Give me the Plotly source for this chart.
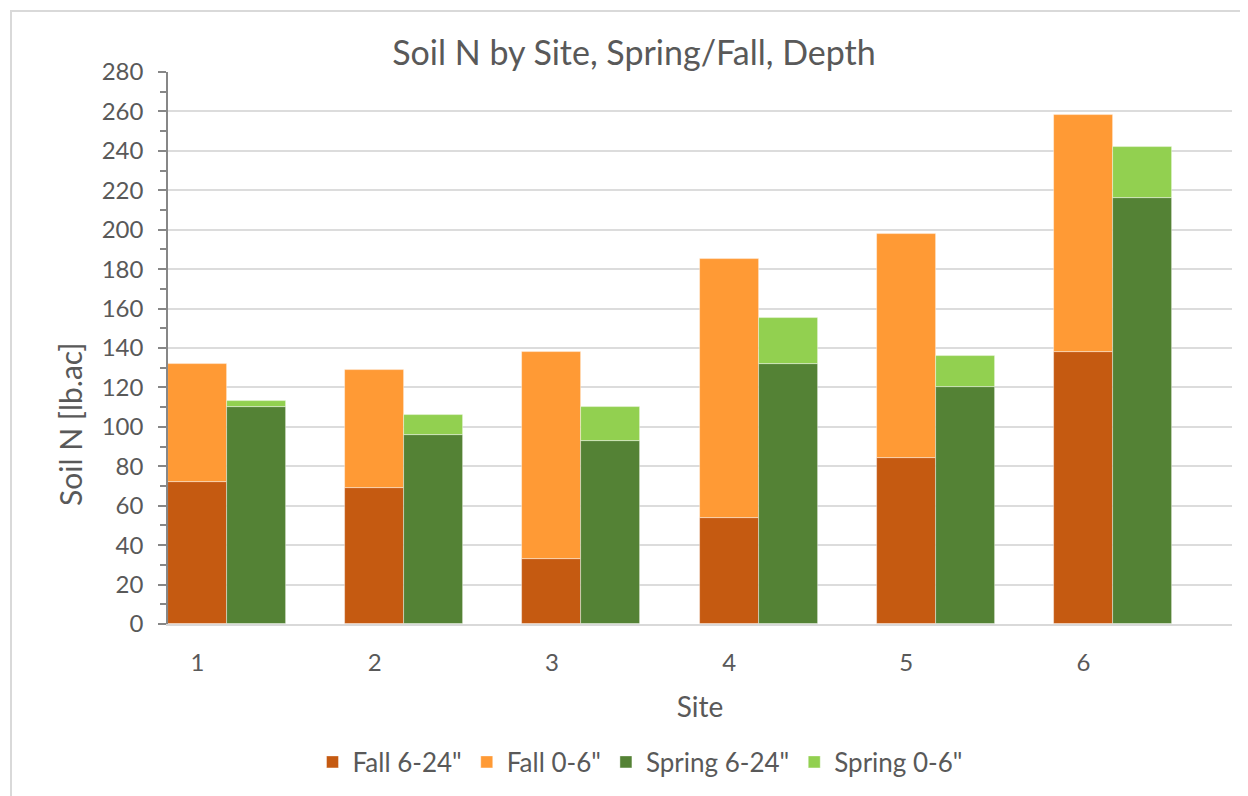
import plotly.graph_objects as go

sites = [1, 2, 3, 4, 5, 6]
fall_deep = [72, 69, 33, 54, 84, 138]      # Fall 6-24"
fall_top = [60, 60, 105, 131, 114, 120]    # Fall 0-6"
spring_deep = [110, 96, 93, 132, 120, 216] # Spring 6-24"
spring_top = [3, 10, 17, 23, 16, 26]       # Spring 0-6"
tick_labels = ["1", "2", "3", "4", "5", "6"]

# page body has an 8px margin; compensate
OFF = 8
W, H = 1248 - OFF, 796 - OFF
L, R, T, B = 168 - OFF, 16, 72 - OFF, 172
pw, ph = W - L - R, H - T - B

bw = 0.333
fall_x = [s for s in sites]
spring_x = [s + bw for s in sites]

FONT = "Lato, 'Open Sans', sans-serif"
GREY = "#595959"

fig = go.Figure()
specs = [
    ("Fall 6-24\"", fall_x, fall_deep, "#C55A11"),
    ("Fall 0-6\"", fall_x, fall_top, "#FF9A35"),
    ("Spring 6-24\"", spring_x, spring_deep, "#548235"),
    ("Spring 0-6\"", spring_x, spring_top, "#92D050"),
]
for name, xs, ys, col in specs:
    fig.add_trace(go.Bar(name=name, x=xs, y=ys, width=bw,
                         marker=dict(color=col, line=dict(color="rgba(255,255,255,0.5)", width=0.8))))

# convert target-screen pixels to paper coordinates
def px_x(p):
    return (p - OFF - L) / pw

def px_y(p):
    return (H - B - (p - OFF)) / ph

fig.update_layout(
    width=W, height=H,
    barmode="relative",
    bargap=0,
    plot_bgcolor="white",
    paper_bgcolor="white",
    margin=dict(l=L, r=R, t=T, b=B, autoexpand=False),
    font=dict(family=FONT, color=GREY, size=24),
    title=dict(text="Soil N by Site, Spring/Fall, Depth", xref="paper", x=px_x(634), xanchor="center",
               yref="container", y=1 - (53 - OFF) / H, yanchor="middle",
               font=dict(size=34, color=GREY, family=FONT)),
    xaxis=dict(range=[1 - bw / 2, 6.838], tickvals=sites, ticktext=tick_labels,
               showgrid=False, zeroline=False, showline=True, linecolor="#d9d9d9", linewidth=2,
               ticks="", ticklabelstandoff=16, tickfont=dict(size=24, color=GREY),
               title=dict(text="Site", font=dict(size=28, color=GREY), standoff=23)),
    yaxis=dict(range=[0, 280], tickvals=list(range(0, 281, 20)),
               showgrid=True, gridcolor="#dcdcdc", gridwidth=1.5, zeroline=False,
               showline=True, linecolor="#878787", linewidth=1.5,
               ticks="outside", ticklen=8, tickcolor="#878787", tickwidth=1.5,
               minor=dict(tickvals=list(range(10, 280, 20)), ticks="outside", ticklen=6,
                          tickcolor="#878787", tickwidth=1.5, showgrid=False),
               ticklabelstandoff=10, tickfont=dict(size=24, color=GREY)),
    legend=dict(orientation="h", x=px_x(640), xanchor="center", y=px_y(762), yanchor="middle",
                font=dict(size=26, color=GREY), traceorder="normal", itemwidth=30,
                bgcolor="rgba(0,0,0,0)"),
    showlegend=True,
)

# y-axis title placed as in the reference (below plot centre)
fig.add_annotation(text="Soil N [lb.ac]", xref="paper", yref="paper",
                   x=px_x(70), y=px_y(425), xanchor="center", yanchor="middle",
                   textangle=-90, showarrow=False, font=dict(size=30, color=GREY, family=FONT))

fig.add_shape(type="rect", xref="paper", yref="paper",
              x0=px_x(11), x1=px_x(1270), y0=px_y(820), y1=px_y(11),
              line=dict(color="#d9d9d9", width=2), fillcolor="rgba(0,0,0,0)", layer="below")

fig.write_html("out.html")
